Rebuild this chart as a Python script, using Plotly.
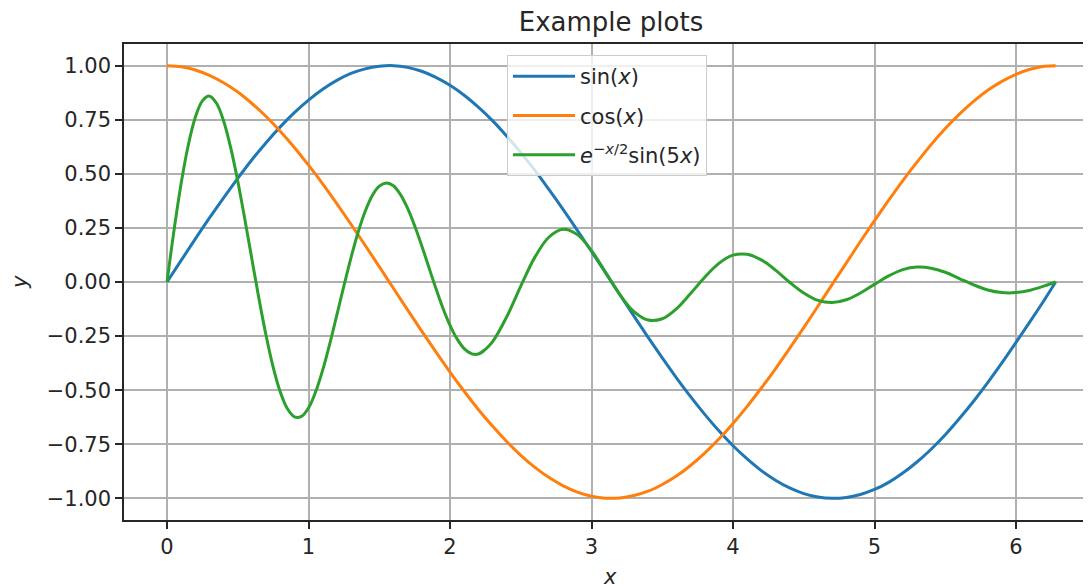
import plotly.graph_objects as go

x_vals = [0.0, 0.1, 0.2, 0.3, 0.4, 0.5, 0.6, 0.7, 0.8, 0.9, 1.0, 1.1, 1.2, 1.3, 1.4, 1.5,
          1.6, 1.7, 1.8, 1.9, 2.0, 2.1, 2.2, 2.3, 2.4, 2.5, 2.6, 2.7, 2.8, 2.9, 3.0, 3.1,
          3.2, 3.3, 3.4, 3.5, 3.6, 3.7, 3.8, 3.9, 4.0, 4.1, 4.2, 4.3, 4.4, 4.5, 4.6, 4.7,
          4.8, 4.9, 5.0, 5.1, 5.2, 5.3, 5.4, 5.5, 5.6, 5.7, 5.8, 5.9, 6.0, 6.1, 6.2, 6.28]

sin_vals = [0.000, 0.100, 0.199, 0.296, 0.389, 0.479, 0.565, 0.644, 0.717, 0.783, 0.841, 0.891, 0.932, 0.964, 0.985, 0.997,
            1.000, 0.992, 0.974, 0.946, 0.909, 0.863, 0.808, 0.746, 0.675, 0.598, 0.516, 0.427, 0.335, 0.239, 0.141, 0.042,
            -0.058, -0.158, -0.256, -0.351, -0.443, -0.530, -0.612, -0.688, -0.757, -0.818, -0.872, -0.916, -0.952, -0.978, -0.994, -1.000,
            -0.996, -0.982, -0.959, -0.926, -0.883, -0.832, -0.773, -0.706, -0.631, -0.551, -0.465, -0.374, -0.279, -0.182, -0.083, 0.000]

cos_vals = [1.000, 0.995, 0.980, 0.955, 0.921, 0.878, 0.825, 0.765, 0.697, 0.622, 0.540, 0.454, 0.362, 0.267, 0.170, 0.071,
            -0.029, -0.129, -0.227, -0.323, -0.416, -0.505, -0.589, -0.666, -0.737, -0.801, -0.857, -0.904, -0.942, -0.971, -0.990, -0.999,
            -0.998, -0.987, -0.967, -0.936, -0.897, -0.848, -0.791, -0.726, -0.654, -0.575, -0.490, -0.401, -0.307, -0.211, -0.112, -0.012,
            0.087, 0.187, 0.284, 0.378, 0.469, 0.554, 0.635, 0.709, 0.776, 0.835, 0.886, 0.927, 0.960, 0.983, 0.997, 1.000]

damped_x = [0.0, 0.05, 0.1, 0.15, 0.2, 0.25, 0.3, 0.35, 0.4, 0.45, 0.5, 0.55, 0.6, 0.65, 0.7, 0.75,
            0.8, 0.85, 0.9, 0.95, 1.0, 1.05, 1.1, 1.15, 1.2, 1.25, 1.3, 1.35, 1.4, 1.45, 1.5, 1.55,
            1.6, 1.65, 1.7, 1.75, 1.8, 1.85, 1.9, 1.95, 2.0, 2.05, 2.1, 2.15, 2.2, 2.25, 2.3,
            2.4, 2.5, 2.6, 2.7, 2.8, 2.9, 3.0, 3.1, 3.2, 3.3, 3.4, 3.5, 3.6, 3.7, 3.8, 3.9,
            4.0, 4.1, 4.2, 4.3, 4.4, 4.5, 4.6, 4.7, 4.8, 4.9, 5.0, 5.1, 5.2, 5.3, 5.4, 5.5,
            5.6, 5.7, 5.8, 5.9, 6.0, 6.1, 6.2, 6.28]

damped_vals = [0.000, 0.241, 0.456, 0.632, 0.761, 0.837, 0.859, 0.826, 0.744, 0.621, 0.466, 0.290, 0.105, -0.078, -0.247, -0.393,
               -0.507, -0.585, -0.623, -0.621, -0.582, -0.508, -0.407, -0.286, -0.153, -0.018, 0.112, 0.229, 0.326, 0.399, 0.443, 0.458,
               0.445, 0.404, 0.341, 0.260, 0.168, 0.069, -0.029, -0.121, -0.200, -0.263, -0.308, -0.331, -0.333, -0.311, -0.277,
               -0.162, -0.019, 0.115, 0.208, 0.244, 0.219, 0.145, 0.044, -0.058, -0.137, -0.176, -0.170, -0.124, -0.053, 0.022, 0.086,
               0.124, 0.128, 0.102, 0.055, -0.001, -0.051, -0.085, -0.095, -0.082, -0.051, -0.011, 0.028, 0.057, 0.069, 0.064, 0.045,
               0.016, -0.013, -0.037, -0.049, -0.049, -0.038, -0.018, 0.000]

series_names = ["sin(<i>x</i>)", "cos(<i>x</i>)", "<i>e</i><sup>−<i>x</i>/2</sup>sin(5<i>x</i>)"]
series_colors = ["#1f77b4", "#ff7f0e", "#2ca02c"]
x_ticks = [0, 1, 2, 3, 4, 5, 6]
y_ticks = [-1.0, -0.75, -0.5, -0.25, 0.0, 0.25, 0.5, 0.75, 1.0]
title_text = "Example plots"

FONT = "DejaVu Sans"
TXT = "#262626"
# The page body has an 8px default margin; the figure overflows the window on the right,
# so the plot area runs past the visible edge as in the reference.
W, H = 1091, 580
L, T, B = 116, 36, 68
PW, PH = W - L, H - T - B
X0 = -0.304
X1 = X0 + PW / 141.5

series = [(x_vals, sin_vals), (x_vals, cos_vals), (damped_x, damped_vals)]

fig = go.Figure()
for i, (name, (xs, ys), col) in enumerate(zip(series_names, series, series_colors)):
    fig.add_trace(go.Scatter(x=xs, y=ys, mode="lines", name=name,
                             line=dict(color=col, width=3, shape="spline", smoothing=1.0),
                             legendgroup=f"g{i}"))

axis_common = dict(showgrid=True, gridcolor="#b0b0b0", gridwidth=1.5, zeroline=False,
                   showline=True, linecolor="#262626", linewidth=1.5,
                   ticks="outside", ticklen=7, tickcolor="#262626", tickwidth=1.5,
                   tickfont=dict(family=FONT, size=21, color=TXT))

fig.update_layout(
    width=W, height=H,
    margin=dict(l=L, r=0, t=T, b=B, autoexpand=False),
    paper_bgcolor="white", plot_bgcolor="white",
    font=dict(family=FONT, size=21, color=TXT),
    title=dict(text=title_text, x=(611 - 8) / W, xref="container", xanchor="center",
               y=1 - (22 - 8) / H, yref="container", yanchor="middle",
               font=dict(family=FONT, size=26, color=TXT)),
    xaxis=dict(range=[X0, X1], tickvals=x_ticks, ticktext=[str(t) for t in x_ticks],
               mirror=True, **axis_common),
    yaxis=dict(range=[-1.1, 1.1], tickvals=y_ticks, tickformat=".2f", **axis_common),
    legend=dict(x=(507 - 124) / PW, y=1 - (55 - 44) / PH, xanchor="left", yanchor="top",
                bgcolor="rgba(255,255,255,0.8)", bordercolor="#cccccc", borderwidth=1,
                font=dict(family=FONT, size=21, color=TXT),
                tracegroupgap=9, itemwidth=62),
    showlegend=True,
)

fig.add_annotation(text="<i>x</i>", x=(610 - 124) / PW, xref="paper",
                   y=-(577 - 520) / PH, yref="paper",
                   xanchor="center", yanchor="middle", showarrow=False,
                   font=dict(family=FONT, size=21, color=TXT))
fig.add_annotation(text="<i>y</i>", x=-(124 - 20) / PW, xref="paper", y=0.5, yref="paper",
                   xanchor="center", yanchor="middle", showarrow=False, textangle=-90,
                   font=dict(family=FONT, size=21, color=TXT))

fig.write_html("out.html")
